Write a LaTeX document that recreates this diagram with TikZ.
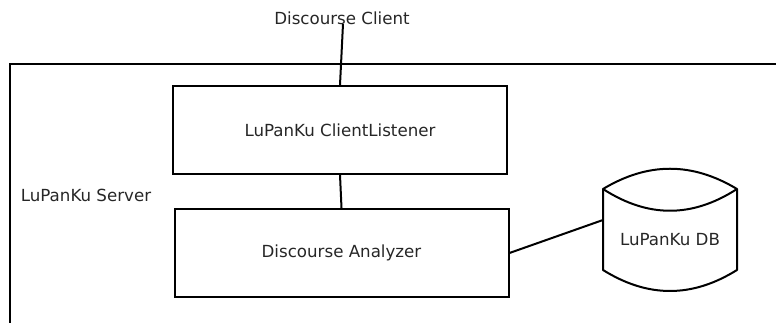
\documentclass[tikz,border=0pt]{standalone}
\usepackage{fontspec}
\setmainfont{DejaVu Sans}
\begin{document}
\begin{tikzpicture}[x=0.75pt,y=-0.75pt,
  every node/.style={font=\fontsize{12.5pt}{14pt}\selectfont, text=black!85},
  box/.style={draw=black, line width=1.5pt, minimum width=250.5pt, minimum height=66pt, inner sep=0pt},
  line/.style={draw=black, line width=1.5pt}]
\useasboundingbox (0,0) rectangle (776,323);
\begin{scope}
\clip (0,0) rectangle (776,323);
\draw[line] (10,340) -- (10,64) -- (790,64);
\end{scope}
\node (client) at (342,18) {Discourse Client};
\node (server) at (86,195) {LuPanKu Server};
\node[box] (listener) at (340,130) {LuPanKu ClientListener};
\node[box] (analyzer) at (341.5,253) {Discourse Analyzer};
\coordinate (clientend) at (343,24);
\coordinate (dbl) at (603,220);
% database cylinder
\draw[line, line join=round]
  (603,189) .. controls (648,162) and (692,162) .. (737,189)
  -- (737,270) .. controls (692,298) and (648,298) .. (603,270) -- cycle;
\draw[line] (603,189) .. controls (648,218) and (692,218) .. (737,189);
\node (db) at (670,240) {LuPanKu DB};
\draw[line] (clientend) -- (listener.north -| 340,0);
\draw[line] (listener.south) -- (analyzer.north);
\draw[line] (analyzer.east) -- (dbl);
\end{tikzpicture}
\end{document}
